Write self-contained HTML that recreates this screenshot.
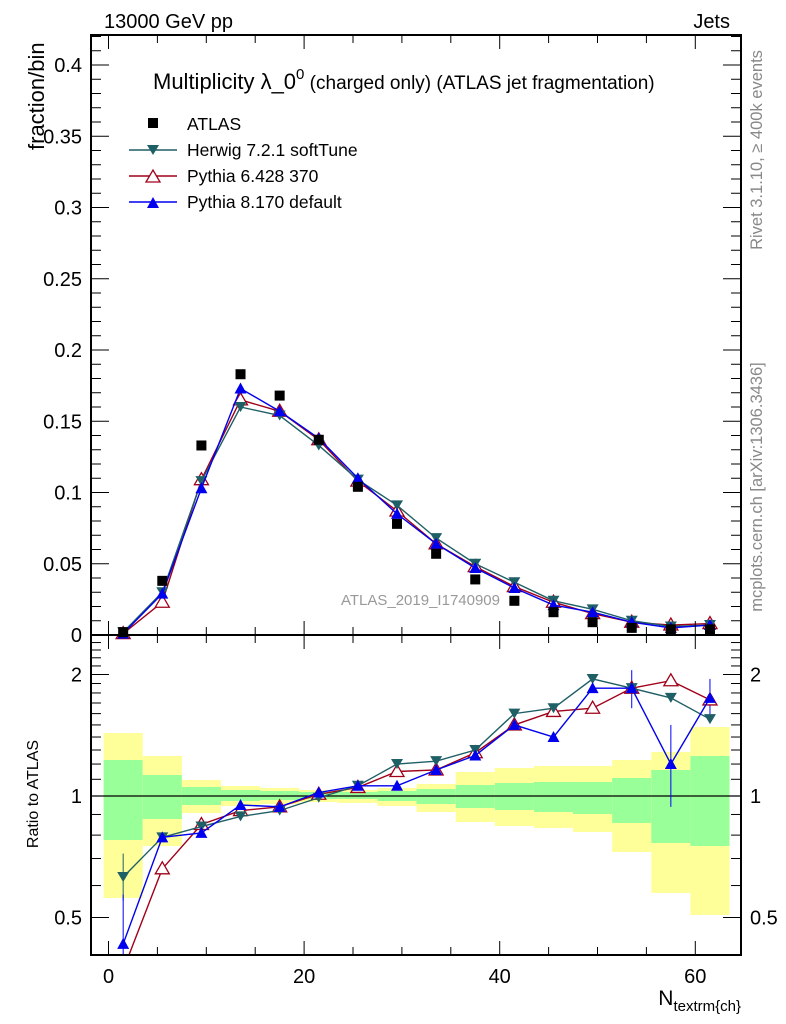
<!DOCTYPE html><html><head><meta charset="utf-8"><style>body{margin:0;background:#fff}svg{display:block;font-family:"Liberation Sans",sans-serif}</style></head><body>
<svg id="s" width="786" height="1024" xmlns="http://www.w3.org/2000/svg"></svg>
<script>
const S=document.getElementById('s');let h='';
const L=91,R=741,T=35,M=635,B=955;
const X=v=>108.5+v*9.78, Y=v=>635-v*1425, RY=r=>796-Math.log2(r)*121.5;
const c=[1.5,5.5,9.5,13.5,17.5,21.5,25.5,29.5,33.5,37.5,41.5,45.5,49.5,53.5,57.5,61.5];
const yt=[733,756,780,786,788,790,790,788,784,772,768,766,766,760,752,727],yb=[898,846,813,806,804,802,803,806,812,822,826,828,832,852,893,915];
const gt=[760,775,787,790,791,792,792,791,789,785,783,782,782,778,770,756],gb=[840,819,805,801,800,799,799,801,804,808,810,812,814,823,843,846];
c.forEach((v,i)=>{const x0=X(v-2),w=4*9.78;h+=`<rect x="${x0}" y="${yt[i]}" width="${w}" height="${yb[i]-yt[i]}" fill="#ffff99"/><rect x="${x0}" y="${gt[i]}" width="${w}" height="${gb[i]-gt[i]}" fill="#99ff99"/>`});
h+=`<line x1="${L}" x2="${R}" y1="796" y2="796" stroke="#000" stroke-width="1.2"/>`;
const A=[0.002,0.038,0.133,0.183,0.168,0.137,0.104,0.078,0.057,0.039,0.024,0.016,0.009,0.005,0.004,0.004];
const hr=[0.63,0.79,0.84,0.89,0.92,0.99,1.06,1.20,1.22,1.30,1.60,1.65,1.95,1.85,1.75,1.55];
const p6=[0.35,0.66,0.85,0.92,0.94,1.01,1.05,1.15,1.16,1.28,1.50,1.62,1.65,1.85,1.93,1.73];
const p8=[0.43,0.79,0.81,0.95,0.94,1.02,1.06,1.06,1.16,1.26,1.50,1.40,1.85,1.85,1.20,1.75];
const hm=[0.002,0.030,0.108,0.160,0.154,0.133,0.109,0.091,0.068,0.050,0.037,0.024,0.018,0.010,0.006,0.007];
const p6m=[0.001,0.023,0.109,0.165,0.157,0.137,0.108,0.087,0.064,0.048,0.034,0.023,0.015,0.009,0.007,0.008];
const p8m=[0.001,0.029,0.103,0.173,0.157,0.138,0.110,0.085,0.064,0.047,0.033,0.021,0.016,0.009,0.005,0.007];
function mk(t,x,y,col){if(t=='d')return `<path d="M${x-6},${y-5}h12l-6,10z" fill="${col}"/>`;if(t=='o')return `<path d="M${x-7},${y+5}h14l-7,-12z" fill="#fff" stroke="${col}" stroke-width="1.3"/>`;return `<path d="M${x-6},${y+5}h12l-6,-11z" fill="${col}"/>`}
function ser(vals,f,col,t,clip){let pts=vals.map((v,i)=>[X(c[i]),Math.min(f(v),clip)]);h+=`<polyline points="${pts.map(p=>p.join(',')).join(' ')}" fill="none" stroke="${col}" stroke-width="1.4"/>`;pts.forEach(p=>{if(p[1]<clip-1)h+=mk(t,p[0],p[1],col)})}
h+=`<clipPath id="cr"><rect x="${L}" y="${M}" width="${R-L}" height="${B-M}"/></clipPath><g clip-path="url(#cr)">`;
h+=`<line x1="${X(1.5)}" x2="${X(1.5)}" y1="${RY(0.72)}" y2="${RY(0.55)}" stroke="#1f5f66"/><line x1="${X(1.5)}" x2="${X(1.5)}" y1="${RY(0.57)}" y2="960" stroke="#00f"/><line x1="${X(57.5)}" x2="${X(57.5)}" y1="${RY(1.5)}" y2="${RY(0.94)}" stroke="#00f"/><line x1="${X(53.5)}" x2="${X(53.5)}" y1="${RY(2.05)}" y2="${RY(1.65)}" stroke="#00f"/><line x1="${X(61.5)}" x2="${X(61.5)}" y1="${RY(1.95)}" y2="${RY(1.55)}" stroke="#00f"/>`;
ser(p6,RY,'#a0001a','o',970);ser(hr,RY,'#1f5f66','d',970);ser(p8,RY,'#0000ee','u',970);h+='</g>';
ser(p6m,Y,'#a0001a','o',640);ser(hm,Y,'#1f5f66','d',640);ser(p8m,Y,'#0000ee','u',640);
A.forEach((v,i)=>h+=`<rect x="${X(c[i])-5}" y="${Y(v)-5}" width="10" height="10" fill="#000"/>`);
h+=`<rect x="${L}" y="${T}" width="${R-L}" height="${B-T}" fill="none" stroke="#000" stroke-width="2"/><line x1="${L}" x2="${R}" y1="${M}" y2="${M}" stroke="#000" stroke-width="2"/>`;
for(let v=0;v<=64;v+=5){const x=X(v),l=v%20==0?14:8;h+=`<line x1="${x}" x2="${x}" y1="${M}" y2="${M-l}" stroke="#000"/><line x1="${x}" x2="${x}" y1="${T}" y2="${T+l}" stroke="#000"/><line x1="${x}" x2="${x}" y1="${B}" y2="${B-l}" stroke="#000"/><line x1="${x}" x2="${x}" y1="${M}" y2="${M+l}" stroke="#000"/>`;if(v%20==0)h+=`<text x="${x}" y="983" font-size="20" text-anchor="middle">${v}</text>`}
for(let k=0;k<=42;k++){const y=Y(k/100),l=k%5==0?18:10;if(y<T)continue;h+=`<line x1="${L}" x2="${L+l}" y1="${y}" y2="${y}" stroke="#000"/><line x1="${R}" x2="${R-l}" y1="${y}" y2="${y}" stroke="#000"/>`;if(k%5==0&&k>0)h+=`<text x="82" y="${y+7}" font-size="20" text-anchor="end">${k==10?'0.1':k==20?'0.2':k==30?'0.3':k==40?'0.4':(k/100).toFixed(2)}</text>`}
h+=`<text x="82" y="642" font-size="20" text-anchor="end">0</text>`;
[0.5,0.6,0.7,0.8,0.9,1,1.1,1.2,1.3,1.4,1.5,1.6,1.7,1.8,1.9,2,2.1,2.2,2.3,2.4].forEach(r=>{const y=RY(r),l=(r==0.5||r==1||r==2)?18:10;h+=`<line x1="${L}" x2="${L+l}" y1="${y}" y2="${y}" stroke="#000"/><line x1="${R}" x2="${R-l}" y1="${y}" y2="${y}" stroke="#000"/>`});
[[2,'2'],[1,'1'],[0.5,'0.5']].forEach(([r,t])=>{const y=RY(r)+7;h+=`<text x="82" y="${y}" font-size="20" text-anchor="end">${t}</text><text x="750" y="${y}" font-size="20">${t}</text>`});
h+=`<text x="104" y="28" font-size="20">13000 GeV pp</text><text x="730" y="28" font-size="20" text-anchor="end">Jets</text>
<text x="153" y="89" font-size="22">Multiplicity λ_0<tspan dy="-10" font-size="15">0</tspan><tspan dy="10" font-size="19"> (charged only) (ATLAS jet fragmentation)</tspan></text>
<text transform="translate(44,150) rotate(-90)" font-size="22">fraction/bin</text>
<text transform="translate(38,794) rotate(-90)" font-size="16" text-anchor="middle">Ratio to ATLAS</text>
<text transform="translate(762,150) rotate(-90)" font-size="16.5" fill="#888" text-anchor="middle">Rivet 3.1.10, ≥ 400k events</text>
<text transform="translate(762,487) rotate(-90)" font-size="16.5" fill="#888" text-anchor="middle">mcplots.cern.ch [arXiv:1306.3436]</text>
<text x="500" y="605" font-size="15" fill="#999" text-anchor="end">ATLAS_2019_I1740909</text>
<text x="741" y="1005" font-size="21" text-anchor="end">N<tspan font-size="15" dy="6">textrm{ch}</tspan></text>
<rect x="148" y="118" width="10" height="10"/><text x="187" y="130" font-size="17.5">ATLAS</text>
<line x1="129" x2="177" y1="150" y2="150" stroke="#1f5f66" stroke-width="1.4"/>${mk('d',153,150,'#1f5f66')}<text x="187" y="156" font-size="17.5">Herwig 7.2.1 softTune</text>
<line x1="129" x2="177" y1="176" y2="176" stroke="#a0001a" stroke-width="1.4"/>${mk('o',153,177,'#a0001a')}<text x="187" y="182" font-size="17.5">Pythia 6.428 370</text>
<line x1="129" x2="177" y1="202" y2="202" stroke="#0000ee" stroke-width="1.4"/>${mk('u',153,203,'#0000ee')}<text x="187" y="208" font-size="17.5">Pythia 8.170 default</text>`;
S.innerHTML=h;
</script></body></html>
